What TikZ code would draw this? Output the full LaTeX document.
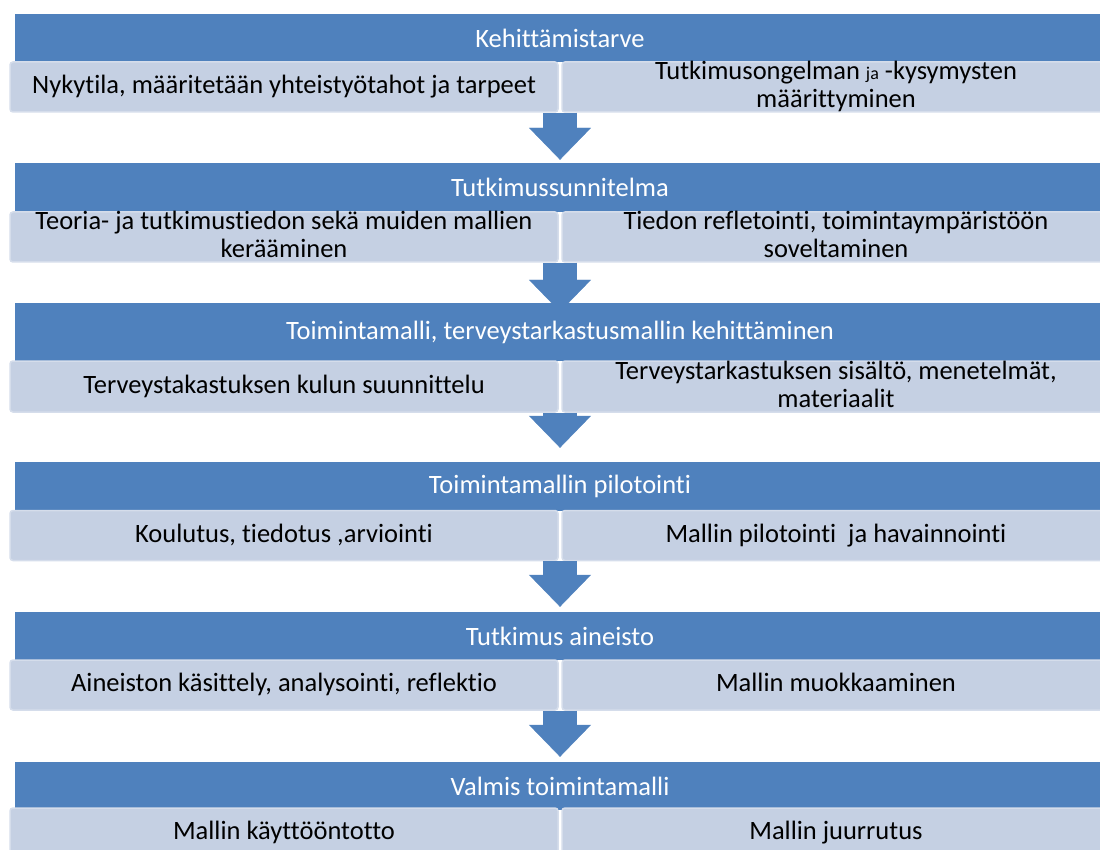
\documentclass[tikz,border=0pt]{standalone}
\usepackage{fontspec}
\setmainfont{Carlito}[Ligatures=NoCommon]
\usetikzlibrary{arrows.meta,calc,positioning}
\definecolor{headblue}{HTML}{4F81BD}
\definecolor{subfill}{HTML}{C5D0E3}
\definecolor{subedge}{HTML}{D5DDEB}
\newcommand{\substrut}{\rule[-5pt]{0pt}{23pt}}

\begin{document}
\begin{tikzpicture}[x=1pt, y=-1pt, every node/.style={font=\fontsize{26.5}{28}\selectfont}]
    \tikzset{HeadStyle/.style = {fill = headblue, text = white,
        minimum width = 1090pt, minimum height = 48pt, inner sep = 0pt},
      SubStyle/.style = {fill = subfill, draw = subedge, line width = 1.5pt,
        rounded corners = 3pt, text = black, align = center,
        minimum width = 548pt, minimum height = 50pt, inner xsep = 0pt, inner ysep = -4pt,
        execute at begin node = \substrut, execute at end node = \substrut},
      ArrowStyle/.style = {headblue, line width = 34pt,
        -{Triangle[length=32pt, width=62pt, line width=0.4pt]}}}
    \useasboundingbox (0,0) rectangle (1100,850);
    % phase 1
    \node[HeadStyle] (H1) at (560,38) {Kehittämistarve};
    \node[SubStyle] (L1) at (284,87) {Nykytila, määritetään yhteistyötahot ja tarpeet};
    \node[SubStyle] (R1) at (836,87) {Tutkimusongelman {\fontsize{18}{18}\selectfont ja} -kysymysten\\määrittyminen};
    % phase 2
    \node[HeadStyle, minimum height=49pt] (H2) at (560,187.5) {Tutkimussunnitelma};
    \node[SubStyle] (L2) at (284,237) {Teoria- ja tutkimustiedon sekä muiden mallien\\kerääminen};
    \node[SubStyle] (R2) at (836,237) {Tiedon refletointi, toimintaympäristöön\\soveltaminen};
    % phase 3
    \node[HeadStyle, minimum height=58pt] (H3) at (560,332) {Toimintamalli, terveystarkastusmallin kehittäminen};
    \node[SubStyle, minimum height=51pt] (L3) at (284,386.5) {Terveystakastuksen kulun suunnittelu};
    \node[SubStyle, minimum height=51pt] (R3) at (836,386.5) {Terveystarkastuksen sisältö, menetelmät,\\materiaalit};
    % phase 4
    \node[HeadStyle, minimum height=49pt] (H4) at (560,486.5) {Toimintamallin pilotointi};
    \node[SubStyle] (L4) at (284,535.5) {Koulutus, tiedotus ,arviointi};
    \node[SubStyle] (R4) at (836,535.5) {Mallin pilotointi \ ja havainnointi};
    % phase 5
    \node[HeadStyle] (H5) at (560,636) {Tutkimus aineisto};
    \node[SubStyle] (L5) at (284,685) {Aineiston käsittely, analysointi, reflektio};
    \node[SubStyle] (R5) at (836,685) {Mallin muokkaaminen};
    % phase 6
    \node[HeadStyle] (H6) at (560,786) {Valmis toimintamalli};
    \node[SubStyle] (L6) at (284,833) {Mallin käyttööntotto};
    \node[SubStyle] (R6) at (836,833) {Mallin juurrutus};
    % block arrows
    \draw[ArrowStyle, shorten >=3pt] ($(L1.south east)!.5!(R1.south west)$) -- (H2.north);
    \draw[ArrowStyle, shorten >=-9pt] ($(L2.south east)!.5!(R2.south west)$) -- (H3.north);
    \draw[ArrowStyle, shorten >=14pt] ($(L3.south east)!.5!(R3.south west)$) -- (H4.north);
    \draw[ArrowStyle, shorten >=5pt] ($(L4.south east)!.5!(R4.south west)$) -- (H5.north);
    \draw[ArrowStyle, shorten >=5pt] ($(L5.south east)!.5!(R5.south west)$) -- (H6.north);
\end{tikzpicture}
\end{document}
